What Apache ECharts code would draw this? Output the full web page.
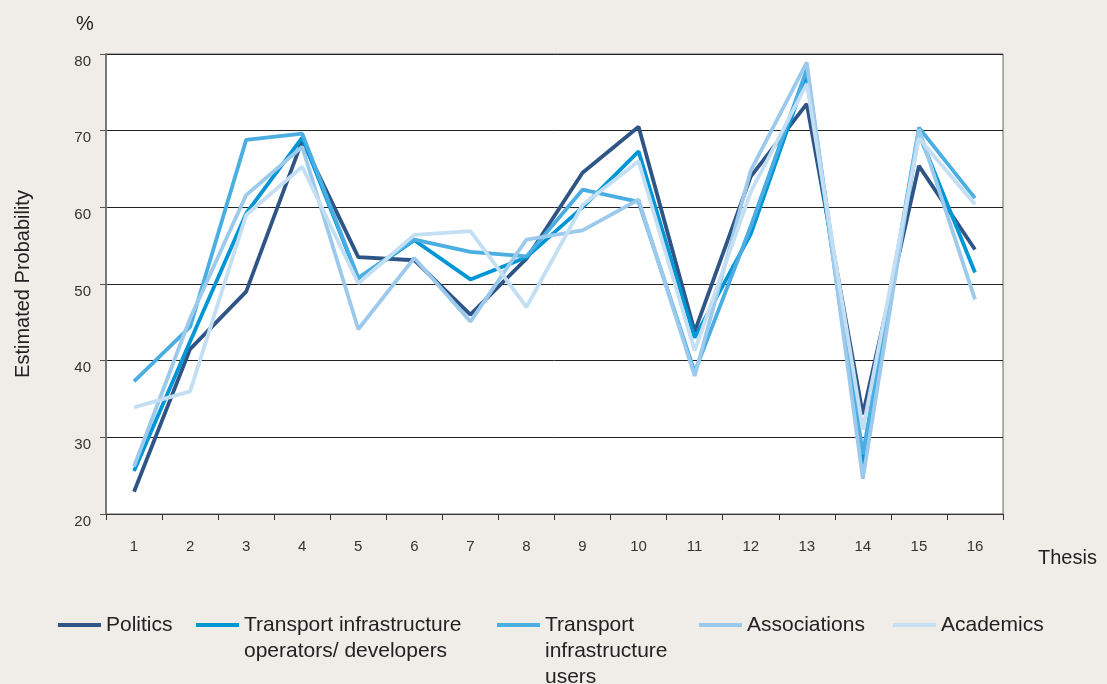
<!DOCTYPE html>
<html>
<head>
<meta charset="utf-8">
<script src="https://cdn.jsdelivr.net/npm/echarts@6/dist/echarts.min.js"></script>
<style>
html,body{margin:0;padding:0;background:#f0ede9;}
#c{width:1107px;height:684px;}
</style>
</head>
<body>
<div id="c"></div>
<script>
const categories = ['1','2','3','4','5','6','7','8','9','10','11','12','13','14','15','16'];
const seriesNames = ['Politics', 'Transport infrastructure\noperators/ developers', 'Transport\ninfrastructure\nusers', 'Associations', 'Academics'];
const politics     = [22.9, 41.5, 49.0, 68.7, 53.5, 53.1, 46.0, 53.3, 64.5, 70.5, 43.8, 64.0, 73.5, 33.0, 65.4, 54.5];
const operators    = [25.6, 42.5, 59.2, 69.1, 50.7, 55.7, 50.6, 53.5, 60.0, 67.3, 43.0, 56.5, 77.4, 26.5, 69.6, 51.5];
const users        = [37.3, 44.4, 68.8, 69.6, 50.8, 55.8, 54.2, 53.6, 62.3, 60.7, 38.5, 57.5, 78.0, 27.8, 70.4, 61.2];
const associations = [26.2, 45.5, 61.6, 67.9, 44.1, 53.4, 45.1, 55.8, 57.0, 61.0, 38.0, 64.8, 78.9, 24.6, 70.2, 48.0];
const academics    = [33.9, 36.0, 59.0, 65.3, 50.1, 56.4, 56.9, 47.0, 60.3, 66.0, 41.3, 62.0, 76.1, 31.0, 69.0, 60.4];
const yTicks = {min: 20, max: 80, interval: 10};

const values = [politics, operators, users, associations, academics];
const colors = ['#2e5586', '#0096d6', '#4baee3', '#9ccaec', '#c4dff3'];
const legendLeft = [58, 196, 497, 699, 893];
const FONT = '"Liberation Sans", Arial, sans-serif';
const LH = 26;

const chart = echarts.init(document.getElementById('c'), null, {renderer: 'canvas'});

const legends = seriesNames.map((name, i) => {
  const n = name.split('\n').length;
  return {
    data: [name],
    left: legendLeft[i],
    top: 625 - LH / 2 - (n - 1) * LH,
    padding: 0,
    icon: 'rect',
    itemWidth: 43,
    itemHeight: 4,
    formatter: nm => '\n'.repeat(n - 1) + nm,
    textStyle: {fontSize: 21, lineHeight: LH, color: '#222', fontFamily: FONT},
    selectedMode: false
  };
});

chart.setOption({
  animation: false,
  backgroundColor: '#f0ede9',
  title: [{
    text: '%', left: 71, top: 9,
    textStyle: {fontSize: 20, fontWeight: 'normal', color: '#222', fontFamily: FONT}
  }],
  legend: legends,
  grid: {
    left: 106, right: 104, top: 54, bottom: 170,
    outerBoundsMode: 'none',
    containLabel: false,
    show: true, backgroundColor: '#ffffff', borderColor: '#666', borderWidth: 1
  },
  xAxis: {
    type: 'category',
    data: categories,
    boundaryGap: true,
    name: 'Thesis',
    nameLocation: 'end',
    nameGap: 35,
    nameTextStyle: {fontSize: 20, color: '#222', fontFamily: FONT, align: 'left', verticalAlign: 'top', padding: [34, 0, 0, 0]},
    axisLine: {lineStyle: {color: '#333', width: 1}},
    axisTick: {show: true, length: 6, lineStyle: {color: '#333'}},
    axisLabel: {fontSize: 15, color: '#333', margin: 25, fontFamily: FONT}
  },
  yAxis: {
    type: 'value',
    min: yTicks.min, max: yTicks.max, interval: yTicks.interval,
    name: 'Estimated Probability',
    nameLocation: 'middle',
    nameGap: 73,
    nameRotate: 90,
    nameTextStyle: {fontSize: 20, color: '#222', fontFamily: FONT},
    axisLine: {show: true, lineStyle: {color: '#777', width: 2}},
    axisTick: {show: true, length: 6, lineStyle: {color: '#555'}},
    axisLabel: {fontSize: 15, color: '#333', margin: 15, fontFamily: FONT, verticalAlign: 'top'},
    splitLine: {lineStyle: {color: '#222', width: 1}}
  },
  series: seriesNames.map((name, i) => ({
    name: name,
    type: 'line',
    data: values[i],
    symbol: 'none',
    color: colors[i],
    lineStyle: {width: 3.8, color: colors[i]}
  }))
});
</script>
</body>
</html>
